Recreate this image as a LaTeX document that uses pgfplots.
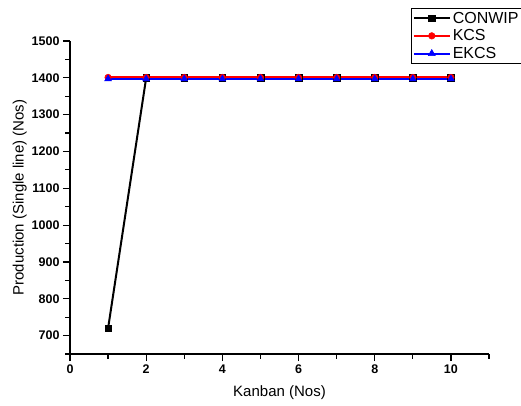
\documentclass[border=0pt]{standalone}
\usepackage{fontspec}
\setmainfont{Liberation Sans}
\usepackage{pgfplots}
\pgfplotsset{compat=1.18}
\begin{document}
\begin{tikzpicture}
\useasboundingbox (-70pt,-51pt) rectangle (451pt,354pt);
\clip (-70pt,-51pt) rectangle (451pt,354pt);
\begin{axis}[
  scale only axis,
  width=419pt, height=313pt,
  xmin=0, xmax=11, ymin=650, ymax=1500,
  axis x line*=bottom, axis y line*=left,
  axis line style={-, line width=1.1pt},
  xtick={0,2,4,6,8,10}, minor xtick={1,3,5,7,9,11},
  ytick={700,800,...,1500}, minor ytick={650,750,...,1450},
  tick align=outside,
  major tick length=7pt, minor tick length=4.5pt,
  every tick/.append style={draw=black, line width=1.2pt},
  /pgf/number format/assume math mode=true,
  /pgf/number format/1000 sep={},
  ticklabel style={font=\bfseries\fontsize{12.5}{14}\selectfont},
  xlabel={Kanban (Nos)},
  ylabel={Production (Single line) (Nos)},
  label style={font=\fontsize{15}{17}\selectfont},
  xlabel style={yshift=-5pt},
  ylabel style={yshift=-2pt},
  legend style={at={(axis description cs:0.814,1.105)}, anchor=north west,
    draw=black, font=\fontsize{16}{17}\selectfont,
    inner sep=1.5pt, row sep=1pt, cells={anchor=west}},
  legend image code/.code={\draw[mark repeat=2,mark phase=2,line width=2pt] plot coordinates {(0pt,0pt) (18pt,0pt) (36pt,0pt)};},
  clip=false,
]
\addplot[black, line width=2pt, mark=square*, mark size=3.3pt, mark options={solid, line width=0.5pt}] coordinates {
(1,720) (2,1400) (3,1400) (4,1400) (5,1400) (6,1400) (7,1400) (8,1400) (9,1400) (10,1400)};
\addlegendentry{CONWIP}
\addplot[red, line width=2pt, mark=*, mark size=3.3pt, mark options={line width=0.5pt}] coordinates {
(1,1401) (2,1401) (3,1401) (4,1401) (5,1401) (6,1401) (7,1401) (8,1401) (9,1401) (10,1401)};
\addlegendentry{KCS}
\addplot[blue, line width=2pt, mark=triangle*, mark size=4pt, mark options={line width=0.5pt}] coordinates {
(1,1397) (2,1397) (3,1397) (4,1397) (5,1397) (6,1397) (7,1397) (8,1397) (9,1397) (10,1397)};
\addlegendentry{EKCS}
\end{axis}
\end{tikzpicture}
\end{document}
